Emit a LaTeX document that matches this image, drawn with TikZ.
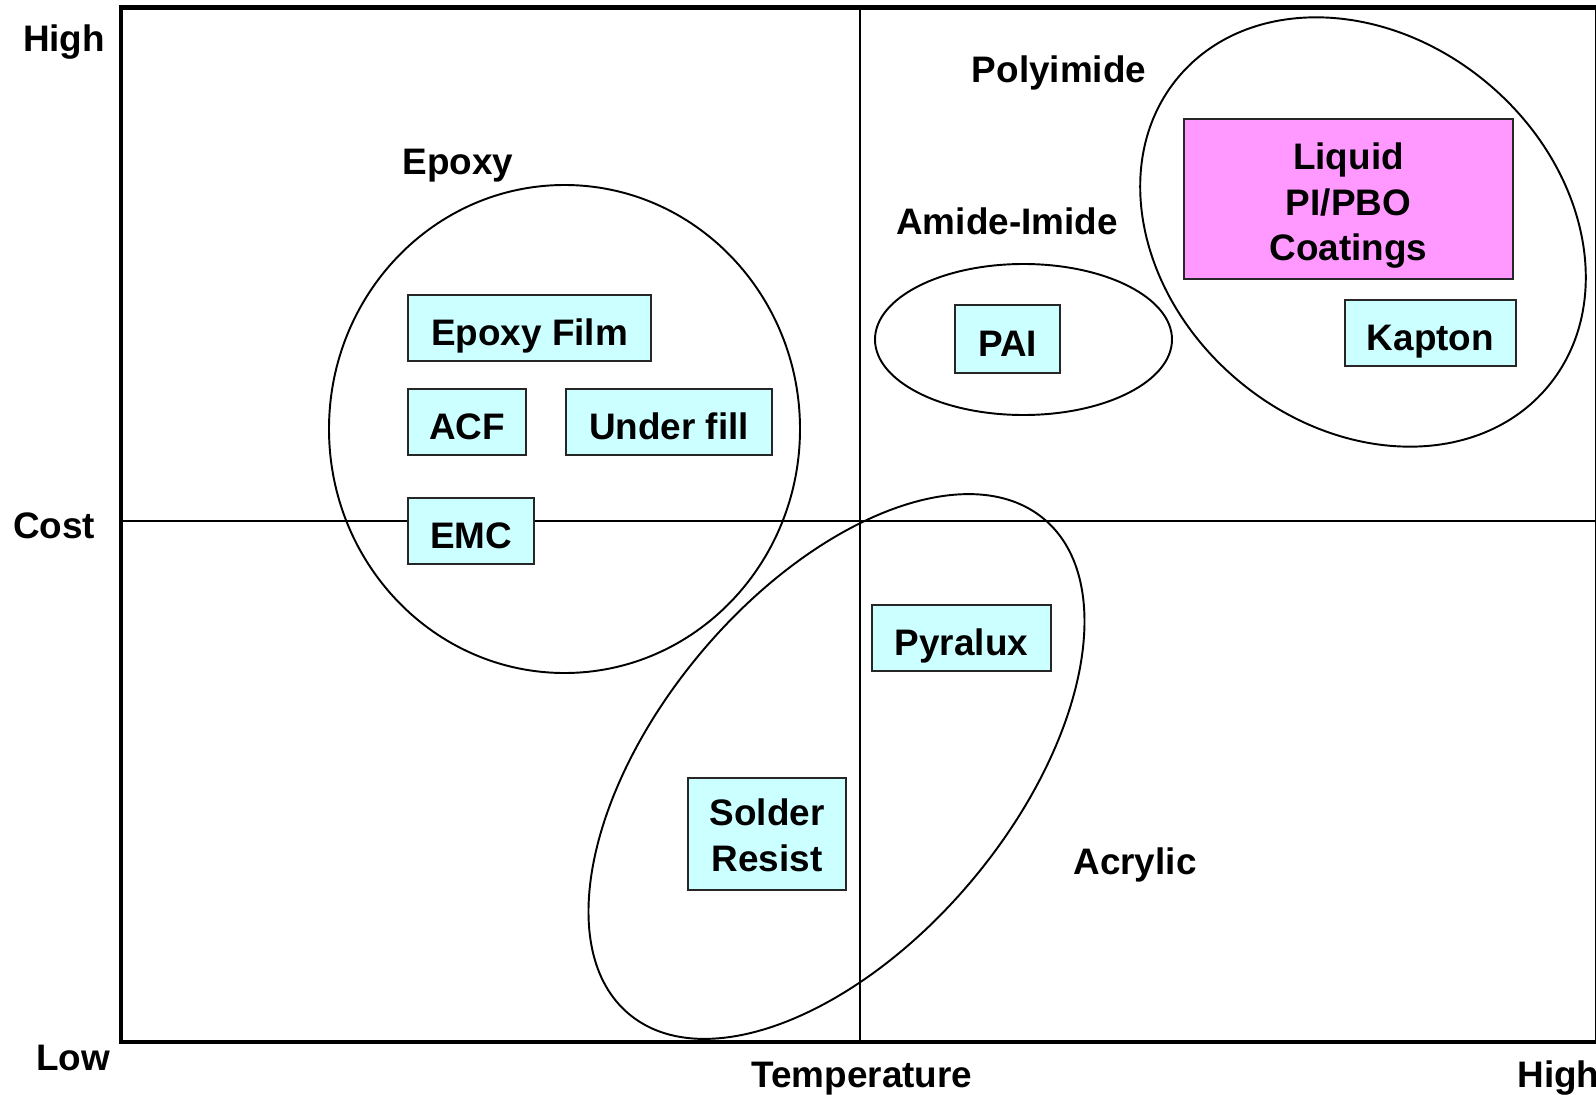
\documentclass[tikz,border=0pt]{standalone}
\usepackage{fontspec}
\setmainfont{Liberation Sans}
\usetikzlibrary{positioning}

\definecolor{mcyan}{HTML}{CCFFFF}
\definecolor{mpink}{HTML}{FF99FF}

\begin{document}
\begin{tikzpicture}[x=0.02cm,y=-0.02cm,align=center,font=\fontsize{21}{26}\selectfont\bfseries,
		mnode/.style={rectangle,draw=black!85,fill=mcyan,line width=1.1pt,inner sep=0pt,minimum height=1.32cm},
		oneline/.style={text height=19.5pt,text depth=0pt},
		mlabel/.style={inner sep=0pt,text height=15pt,text depth=0pt},
		frameline/.style={line width=2.8pt},
		axisline/.style={line width=1.1pt},
		region/.style={line width=1.1pt}]
		\useasboundingbox (0,0) rectangle (1596,1095);
		% frame and cross lines
		\coordinate (tl) at (121,7.5);
		\coordinate (bl) at (121,1042);
		\coordinate (br) at (1597,1042);
		\coordinate (tr) at (1597,7.5);
		\coordinate (tmid) at (860,7.5);
		\coordinate (bmid) at (860,1042);
		\coordinate (lmid) at (121,521);
		\coordinate (rmid) at (1597,521);
		\draw[frameline] (bl) -- (tl) -- (tr) -- (br) -- cycle;
		\draw[axisline] (tmid) -- (bmid);
		\draw[axisline] (lmid) -- (rmid);
		\node[mlabel] (yhigh) at (64,38) {High};
		\node[mlabel] (cost) at (54,525) {Cost};
		\node[mlabel] (low) at (73,1057) {Low};
		\node[mlabel] (temp) at (862,1074) {Temperature};
		\node[mlabel,anchor=west] (xhigh) at (1517,1074) {High};
		% regions
		\coordinate (epc) at (564.5,429);
		\coordinate (aic) at (1023.5,339.5);
		\coordinate (pic) at (1363,232);
		\coordinate (acc) at (836.5,766.5);
		\draw[region] (epc) ellipse [x radius=235.5, y radius=244];
		\draw[region] (aic) ellipse [x radius=148.5, y radius=75.5];
		\draw[region,rotate around={-40:(pic)}] (pic) ellipse [x radius=241, y radius=194];
		\draw[region,rotate around={50:(acc)}] (acc) ellipse [x radius=323, y radius=177];
		\node[mlabel] (epoxy) at (458,161) {Epoxy};
		\node[mlabel] (polyimide) at (1059,69) {Polyimide};
		\node[mlabel] (amideimide) at (1007,221) {Amide-Imide};
		\node[mlabel] (acrylic) at (1135,861) {Acrylic};
		% materials
		\node[mnode,oneline,minimum width=4.86cm] (efilm) at (529.5,328) {Epoxy Film};
		\node[mnode,oneline,minimum width=2.36cm] (acf) at (467,422) {ACF};
		\node[mnode,oneline,minimum width=4.12cm] (ufill) at (669,422) {Under fill};
		\node[mnode,oneline,minimum width=2.52cm] (emc) at (471,531) {EMC};
		\node[mnode,oneline,minimum width=2.10cm,minimum height=1.36cm] (pai) at (1007.5,339) {PAI};
		\node[mnode,fill=mpink,minimum width=6.58cm,minimum height=3.2cm] (lpi) at (1348.5,199) {\rule{0pt}{23pt}Liquid\\PI/PBO\\Coatings};
		\node[mnode,oneline,minimum width=3.42cm] (kapton) at (1430.5,333) {Kapton};
		\node[mnode,oneline,minimum width=3.58cm] (pyralux) at (961.5,638) {Pyralux};
		\node[mnode,minimum width=3.16cm,minimum height=2.24cm] (sresist) at (767,834) {\rule{0pt}{17pt}Solder\\Resist};
	\end{tikzpicture}
\end{document}
